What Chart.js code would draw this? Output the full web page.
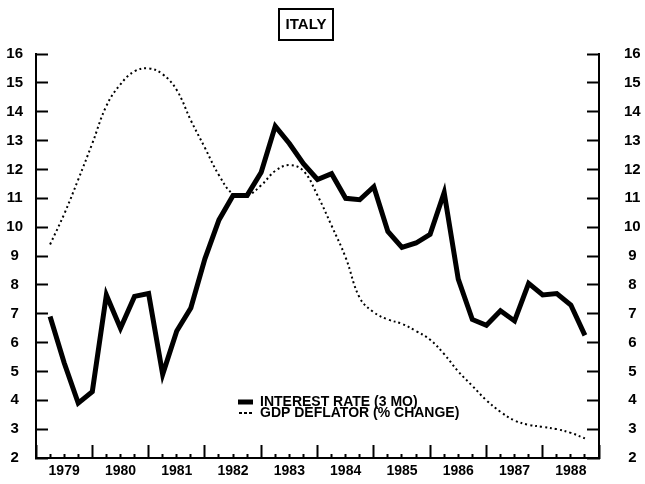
<!DOCTYPE html>
<html>
<head>
<meta charset="utf-8">
<script src="https://cdn.jsdelivr.net/npm/chart.js@4"></script>
<style>
  html, body { margin: 0; padding: 0; background: #fff; }
  canvas { display: block; }
</style>
</head>
<body>
<canvas id="italy-chart" width="645" height="484"></canvas>
<script>
const FONT = "'Liberation Sans', Arial, sans-serif";

// quarters (as fractional years), one point per quarter
const quarters = [
  1979.25, 1979.5, 1979.75, 1980, 1980.25, 1980.5, 1980.75, 1981,
  1981.25, 1981.5, 1981.75, 1982, 1982.25, 1982.5, 1982.75, 1983,
  1983.25, 1983.5, 1983.75, 1984, 1984.25, 1984.5, 1984.75, 1985,
  1985.25, 1985.5, 1985.75, 1986, 1986.25, 1986.5, 1986.75, 1987,
  1987.25, 1987.5, 1987.75, 1988, 1988.25, 1988.5, 1988.75
];

const interestRate = [
  6.9, 5.3, 3.9, 4.3, 7.65, 6.5, 7.6, 7.7,
  4.9, 6.4, 7.2, 8.9, 10.25, 11.1, 11.1, 11.9,
  13.5, 12.9, 12.2, 11.65, 11.85, 11.0, 10.95, 11.4,
  9.85, 9.3, 9.45, 9.75, 11.2, 8.2, 6.8, 6.6,
  7.1, 6.75, 8.05, 7.65, 7.7, 7.3, 6.25
];

const gdpDeflator = [
  9.4, 10.45, 11.65, 12.9, 14.2, 14.95, 15.4, 15.5,
  15.3, 14.75, 13.7, 12.75, 11.8, 11.15, 11.1, 11.45,
  11.95, 12.15, 11.95, 11.1, 10.05, 8.95, 7.55, 7.05,
  6.8, 6.65, 6.4, 6.1, 5.6, 5.0, 4.5, 4.0,
  3.6, 3.3, 3.15, 3.08, 3.0, 2.87, 2.68
];

const yearLabels = ['1979', '1980', '1981', '1982', '1983', '1984', '1985', '1986', '1987', '1988'];
const seriesNames = ['INTEREST RATE (3 MO)', 'GDP DEFLATOR (% CHANGE)'];
const chartTitle = 'ITALY';

function toPoints(vals) {
  return vals.map((v, i) => ({ x: quarters[i], y: v }));
}

// boxed title above the plot
const titleBox = {
  id: 'titleBox',
  afterDraw(chart) {
    const ctx = chart.ctx;
    ctx.save();
    ctx.font = 'bold 15px ' + FONT;
    ctx.fillStyle = '#000';
    ctx.textAlign = 'center';
    ctx.textBaseline = 'middle';
    ctx.fillText(chartTitle, 306, 25);
    ctx.lineWidth = 2;
    ctx.strokeStyle = '#000';
    ctx.strokeRect(279, 9, 54, 31);
    ctx.restore();
  }
};

// put the legend inside the plot, lower middle (legend clips to its own box)
const legendSpot = {
  id: 'legendSpot',
  afterLayout(chart) {
    const lg = chart.legend;
    const area = chart.chartArea;
    lg.left = 238;
    lg.right = area.right;
    lg.top = 393;
    lg.bottom = 422;
  }
};

const yTicks = (pad) => ({
  stepSize: 1,
  padding: pad,
  color: '#000',
  crossAlign: 'center',
  font: { family: FONT, size: 15, weight: 'bold' }
});

const yGrid = {
  drawOnChartArea: false,
  tickLength: -12,
  tickWidth: 2,
  tickColor: '#000'
};

// fixed axis width; the big label padding must not push the plot edges
function yFit(w) {
  return (s) => {
    s.width = w;
    s.paddingTop = 0;
    s.paddingBottom = 0;
  };
}

const chart = new Chart(document.getElementById('italy-chart'), {
  type: 'line',
  data: {
    datasets: [{
      label: seriesNames[0],
      data: toPoints(interestRate),
      borderColor: '#000',
      backgroundColor: '#000',
      borderWidth: 5,
      pointRadius: 0,
      tension: 0
    }, {
      label: seriesNames[1],
      data: toPoints(gdpDeflator),
      borderColor: '#000',
      backgroundColor: '#000',
      borderWidth: 2,
      borderDash: [2, 3],
      pointRadius: 0,
      tension: 0.4
    }]
  },
  options: {
    responsive: false,
    animation: false,
    layout: { padding: { top: 54, left: 0, right: 0, bottom: 0 } },
    plugins: {
      title: { display: false },
      tooltip: { enabled: false },
      legend: {
        position: 'chartArea',
        fullSize: false,
        align: 'center',
        labels: {
          color: '#000',
          boxWidth: 18,
          boxHeight: 0,
          padding: -3,
          font: { family: FONT, size: 14, weight: 'bold' }
        }
      }
    },
    scales: {
      x: {
        type: 'linear',
        min: 1979,
        max: 1989,
        border: { display: true, width: 2, color: '#000' },
        grid: {
          drawOnChartArea: false,
          tickLength: -13,
          tickWidth: 2,
          tickColor: '#000',
          tickBorderDash: (ctx) => (ctx.tick && ctx.tick.value % 1 === 0) ? [] : [5, 40]
        },
        ticks: {
          stepSize: 0.25,
          autoSkip: false,
          maxRotation: 0,
          minRotation: 0,
          padding: 18,
          color: '#000',
          font: { family: FONT, size: 14, weight: 'bold' },
          callback: (v) => {
            const i = v - 1979.5;
            return (i % 1 === 0 && yearLabels[i]) ? yearLabels[i] : '';
          }
        },
        afterFit: (s) => { s.height = 26; }
      },
      y: {
        position: 'left',
        min: 2,
        max: 16,
        border: { display: true, width: 2, color: '#000' },
        grid: yGrid,
        ticks: yTicks(25),
        afterFit: yFit(36)
      },
      y2: {
        position: 'right',
        min: 2,
        max: 16,
        border: { display: true, width: 2, color: '#000' },
        grid: yGrid,
        ticks: yTicks(37),
        afterFit: yFit(46)
      }
    }
  },
  plugins: [titleBox, legendSpot]
});
</script>
</body>
</html>
